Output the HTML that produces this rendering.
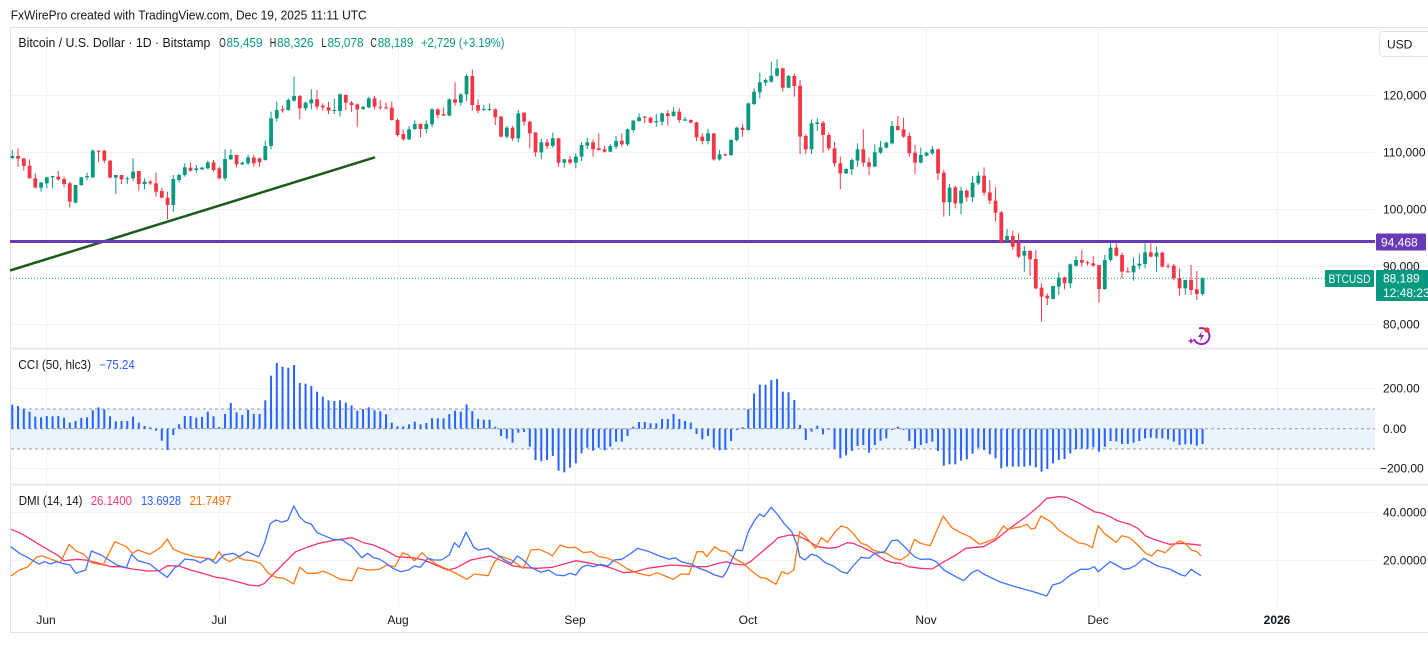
<!DOCTYPE html>
<html><head><meta charset="utf-8">
<style>
html,body{margin:0;padding:0;background:#fff;}
svg{display:block;font-family:"Liberation Sans",Arial,sans-serif;}
</style></head>
<body>
<svg id="s" xmlns="http://www.w3.org/2000/svg" width="1428" height="648" viewBox="0 0 1428 648">
<rect x="0" y="0" width="1428" height="648" fill="#fff"/>
<text x="10.7" y="19.5" font-size="12.5" fill="#131722" textLength="356" lengthAdjust="spacingAndGlyphs">FxWirePro created with TradingView.com, Dec 19, 2025 11:11 UTC</text>
<!-- frame -->
<rect x="10.5" y="27.5" width="1430" height="605" fill="none" stroke="#e0e3eb" stroke-width="1"/>
<g id="grid" stroke="#f0f2f5" stroke-width="1"></g>
<!-- CCI band -->
<rect x="11" y="409" width="1364" height="40" fill="#eaf4fe"/>
<g stroke="#9598a1" stroke-width="1" stroke-dasharray="3 3">
<line x1="11" y1="409" x2="1375" y2="409"/>
<line x1="11" y1="428.7" x2="1375" y2="428.7"/>
<line x1="11" y1="449" x2="1375" y2="449"/>
</g>
<!-- separators -->
<line x1="10" y1="348.5" x2="1428" y2="348.5" stroke="#e6e8ee" stroke-width="2"/>
<line x1="10" y1="484.5" x2="1428" y2="484.5" stroke="#e6e8ee" stroke-width="2"/>
<!-- trend line -->
<line x1="10" y1="270.5" x2="375" y2="157.3" stroke="#1e5a1e" stroke-width="2.5"/>
<!-- purple line -->
<line x1="10" y1="241.5" x2="1375" y2="241.5" stroke="#673ab7" stroke-width="3"/>
<!-- current price dotted -->
<line x1="10" y1="278.3" x2="1325" y2="278.3" stroke="#089981" stroke-width="1" stroke-dasharray="1 2"/>
<g id="candles"></g>
<g id="cci" fill="#2962ff"></g>
<g id="dmi" fill="none" stroke-width="1.3" stroke-linejoin="round"></g>
<!-- legends -->
<text x="18.4" y="47" font-size="12.5" fill="#131722" textLength="192" lengthAdjust="spacingAndGlyphs">Bitcoin / U.S. Dollar · 1D · Bitstamp</text>
<text x="219.3" y="47" font-size="12.5" fill="#131722" textLength="6.5" lengthAdjust="spacingAndGlyphs">O</text>
<text x="226.5" y="47" font-size="12.5" fill="#089981" textLength="36" lengthAdjust="spacingAndGlyphs">85,459</text>
<text x="269.8" y="47" font-size="12.5" fill="#131722" textLength="6.5" lengthAdjust="spacingAndGlyphs">H</text>
<text x="277" y="47" font-size="12.5" fill="#089981" textLength="36.5" lengthAdjust="spacingAndGlyphs">88,326</text>
<text x="321.5" y="47" font-size="12.5" fill="#131722" textLength="5" lengthAdjust="spacingAndGlyphs">L</text>
<text x="327.5" y="47" font-size="12.5" fill="#089981" textLength="36" lengthAdjust="spacingAndGlyphs">85,078</text>
<text x="370.4" y="47" font-size="12.5" fill="#131722" textLength="6.5" lengthAdjust="spacingAndGlyphs">C</text>
<text x="377.7" y="47" font-size="12.5" fill="#089981" textLength="35.6" lengthAdjust="spacingAndGlyphs">88,189</text>
<text x="421" y="47" font-size="12.5" fill="#089981" textLength="83.5" lengthAdjust="spacingAndGlyphs">+2,729 (+3.19%)</text>

<text x="18.3" y="369" font-size="12.5" fill="#131722" textLength="72.7" lengthAdjust="spacingAndGlyphs">CCI (50, hlc3)</text>
<text x="99.3" y="369" font-size="12.5" fill="#2962ff" textLength="35.5" lengthAdjust="spacingAndGlyphs">−75.24</text>

<text x="18.7" y="505" font-size="12.5" fill="#131722" textLength="63.8" lengthAdjust="spacingAndGlyphs">DMI (14, 14)</text>
<text x="90.7" y="505" font-size="12.5" fill="#f23a6e" textLength="41.3" lengthAdjust="spacingAndGlyphs">26.1400</text>
<text x="141" y="505" font-size="12.5" fill="#2962ff" textLength="40" lengthAdjust="spacingAndGlyphs">13.6928</text>
<text x="189.5" y="505" font-size="12.5" fill="#ff6d00" textLength="42" lengthAdjust="spacingAndGlyphs">21.7497</text>

<!-- price axis -->
<rect x="1379.5" y="31.5" width="56" height="25" rx="4" fill="#fff" stroke="#e0e3eb"/>
<text x="1387" y="48.5" font-size="12" fill="#131722">USD</text>
<g font-size="12" fill="#131722">
<text x="1383" y="99.3">120,000</text>
<text x="1383" y="156.3">110,000</text>
<text x="1383" y="213.3">100,000</text>
<text x="1383" y="270.3">90,000</text>
<text x="1383" y="328.3">80,000</text>
<text x="1383" y="392.3">200.00</text>
<text x="1383" y="432.8">0.00</text>
<text x="1380" y="472.3">−200.00</text>
<text x="1383" y="516.3">40.0000</text>
<text x="1383" y="564.3">20.0000</text>
</g>
<rect x="1376" y="233.5" width="50" height="17" rx="1" fill="#673ab7"/>
<text x="1381" y="246.3" font-size="12" fill="#fff">94,468</text>
<rect x="1325" y="270" width="49" height="17" rx="1" fill="#089981"/>
<text x="1328.5" y="283" font-size="12" fill="#fff" textLength="42" lengthAdjust="spacingAndGlyphs">BTCUSD</text>
<rect x="1376" y="270" width="54" height="31" rx="1" fill="#089981"/>
<text x="1383" y="282.5" font-size="12" fill="#fff">88,189</text>
<text x="1383" y="297" font-size="12" fill="#fff">12:48:23</text>

<!-- x axis -->
<g font-size="12" fill="#131722" text-anchor="middle">
<text x="46" y="624">Jun</text>
<text x="219" y="624">Jul</text>
<text x="398" y="624">Aug</text>
<text x="575" y="624">Sep</text>
<text x="748" y="624">Oct</text>
<text x="926" y="624">Nov</text>
<text x="1098" y="624">Dec</text>
<text x="1277" y="624" font-weight="bold">2026</text>
</g>
<!-- icon -->
<g transform="translate(1201,336)">
<path d="M-7,3 A8,8 0 1 0 -2,-7.5" fill="none" stroke="#9c27b0" stroke-width="2"/>
<path d="M1,-5 L-3,1 L0,1 L-1,6 L3,-1 L0,-1 Z" fill="#9c27b0"/>
<circle cx="6" cy="-6" r="2.6" fill="#f23645"/>
<path d="M-10,2 L-9,4 L-7,5 L-9,6 L-10,8 L-11,6 L-13,5 L-11,4 Z" fill="#9c27b0"/>
</g>
</svg>
<script>
(function(){
var NS="http://www.w3.org/2000/svg";
function el(tag,attrs,parent){var e=document.createElementNS(NS,tag);for(var k in attrs)e.setAttribute(k,attrs[k]);parent.appendChild(e);return e;}
var grid=document.getElementById('grid');
[46,219,398,575,748,926,1098,1277].forEach(function(x){el('line',{x1:x+0.5,y1:28,x2:x+0.5,y2:606},grid);});
[95,152,209,266,324,388,468,512,560].forEach(function(y){el('line',{x1:11,y1:y+0.5,x2:1375,y2:y+0.5},grid);});

var A="g 288 294 270 298|r 288 296 265 320|r 295 318 295 332|r 317 355 298 355|r 355 383 340 385|g 368 383 365 395|g 352 370 350 385|g 348 352 348 385|r 350 358 333 362|r 357 372 350 382|r 370 425 365 443|g 375 428 375 430|g 352 375 350 378|g 348 352 338 360|g 272 352 268 355|r 272 274 270 305|r 272 302 270 310|r 302 353 300 355|g 345 353 345 402|r 345 358 345 372|g 355 358 350 372|g 335 355 295 362|r 333 372 333 392|g 365 372 355 388|r 365 370 360 375|r 370 395 338 410|r 393 413 383 415|r 413 435 395 478|g 357 435 345 455|g 345 360 340 368|g 322 345 310 350|r 323 332 307 335|g 325 330 315 338|g 323 328 320 330|g 307 325 302 328|r 307 330 300 335|r 325 355 320 358|g 297 355 268 362|g 285 298 268 300|r 285 313 285 322|g 308 313 305 315|g 292 310 285 315|r 293 310 285 320|r 295 307 293 320|g 258 300 242 302|g 175 258 155 268|g 150 175 125 185|r 148 152 137 158|g 120 150 115 152|g 108 122 50 125|r 108 145 105 178|g 128 145 125 152|g 118 130 88 148|r 118 140 90 148|r 137 142 130 152|r 142 152 125 162|g 150 153 115 162|g 103 153 100 170|r 105 128 103 150|r 128 135 123 155|r 133 148 130 200|g 141 147 138 150|g 115 142 110 145|r 115 140 108 148|r 140 143 120 150|r 142 143 128 148|r 143 180 125 182|r 180 225 175 230|r 222 238 208 242|g 208 238 198 240";
var B="g 207 222 196 225|r 207 222 205 247|g 207 222 196 235|g 163 208 160 217|r 163 180 160 190|r 178 182 157 183|g 133 182 130 183|r 133 143 82 152|g 118 143 115 152|g 63 118 58 138|r 63 150 43 167|r 150 167 133 175|g 162 165 150 167|g 162 165 145 168|r 163 187 160 210|r 185 245 182 247|g 218 245 213 250|r 218 250 213 257|g 175 250 165 262|r 173 200 172 212|r 200 235 197 280|r 232 292 232 305|g 262 292 252 313|r 262 273 252 282|g 250 273 233 278|r 250 323 248 335|g 313 323 312 338|r 313 323 303 328|g 305 323 295 340|g 270 305 262 318|g 262 272 248 282|r 262 283 253 305|r 280 285 235 287|r 283 290 272 292|g 273 290 267 292|g 258 275 243 282|r 257 268 235 275|g 223 268 220 273|g 197 225 195 232|g 187 198 175 200|r 185 188 183 205|r 188 203 185 205|g 198 202 176 215|g 175 200 173 212|r 175 183 165 212|g 170 183 157 185|r 170 195 160 203|g 193 197 185 197|r 195 203 193 205|r 202 247 200 258|r 245 258 235 268|g 235 258 222 268|r 235 313 235 317|g 298 313 285 317|r 298 300 295 303|g 255 300 252 303|g 218 255 215 260|r 218 225 207 245|g 145 225 143 227|g 110 147 100 150|g 82 112 53 130|g 75 83 70 93|g 62 80 20 83|g 40 62 13 65|r 40 98 38 110|g 63 98 60 100|r 63 93 55 125|r 92 245 75 297|r 243 283 237 297|g 205 283 193 297|g 202 207 190 228";
var C="r 38 75 33 128|r 75 115 68 122|r 115 160 95 170|r 160 190 140 238|g 177 190 175 192|g 150 178 145 195|g 118 152 100 170|r 118 158 58 170|r 157 170 143 195|g 127 170 103 170|g 112 128 93 132|g 98 113 95 115|g 48 100 33 103|r 48 60 18 62|r 58 80 23 83|r 78 130 68 140|r 128 158 105 192|g 135 158 112 160|g 128 137 125 140|g 118 130 108 135|r 118 190 115 210|r 188 277 180 320|g 233 277 222 318|r 232 280 227 295|g 242 280 230 313|r 242 262 238 275|g 218 262 198 277|g 197 220 185 225|r 197 248 172 257|r 247 272 210 282|r 272 308 232 335|r 307 397 303 400|g 378 392 357 398|r 378 410 362 420|r 398 440 370 445|g 423 437 408 485|r 423 448 420 497|r 447 535 420 538|r 533 560 520 635|r 557 565 550 585|g 528 567 527 568|g 503 530 487 555|r 502 520 500 538|g 463 520 460 535|g 450 467 438 470|r 450 458 420 470|r 457 459 452 467|r 460 467 438 470|r 465 537 465 578|g 450 537 435 540|g 413 450 400 455|r 413 437 400 440|r 435 485 428 505|r 484 487 472 488|g 467 487 442 512|g 461 467 430 478|g 427 462 400 475|r 427 440 400 442|g 428 440 410 485|r 428 470 425 472|r 467 470 460 475|r 467 505 462 510|r 505 535 475 557|g 510 535 510 555|r 510 540 465 555|r 538 552 483 570|g 505 552 503 557";
var cg=document.getElementById('candles');
var idx=0;
function seg(str,off){
 str.split('|').forEach(function(s){
  var p=s.trim().split(/\s+/);
  var col=p[0]=='g'?'#089981':'#f23645';
  var bt=off+(+p[1])/3,bb=off+(+p[2])/3,wt=off+(+p[3])/3,wb=off+(+p[4])/3;
  var x=12.3+idx*5.75;
  el('line',{x1:x,y1:wt,x2:x,y2:wb,stroke:col,'stroke-width':1},cg);
  var h=Math.max(1,bb-bt);
  el('rect',{x:x-1.9,y:bt,width:3.8,height:h,fill:col},cg);
  idx++;
 });
}
seg(A,60);seg(B,55);seg(C,110);

var cci1=[194,198,206,215,230,232,228,229,228,233,248,243,234,232,211,202,208,229,244,243,243,230,248,258,262,272,302,330,285,253,228,228,233,231,215,229,261,222,189,217,225,210,222,222,181,107,69,80,83,75,129,131,138,155,170,181,183,181,188,196,212,207,202,211,214,223,248,259,259,253];
var cci2=[155,163,159,145,145,145,132,122,125,103,123,147,149,149,170,198,206,218,188,186,230,270,274,270,258,302,307,293,280,250,233,242,233,241,230,215,215,198,170,156,156,160,160,147,147,132,147,153,158,192,208,198,233,241,240,213,180,172,118,70,44,44,30,27,65,67,90,165,210,185,167,193,178,236,265,256,243,228,225,248,225,212,205,180,170,180,213,236,225,220,215,243,287,283,283,272,268,251,233,240,253,265,295,290,290,290,290,287,292,305,297,280,270,267,250,238,236,236,232,245,230,213,214,222,222,218,213,205,203,205,205,208,215,225,223,223,227,222];
var cc=document.getElementById('cci');
var z=428.7;
function bar(i,y){var x=12.3+i*5.75;var t=Math.min(y,z),h=Math.max(1,Math.abs(y-z));el('rect',{x:x-1,y:t,width:2,height:h},cc);}
cci1.forEach(function(v,i){bar(i,340+v/3);});
cci2.forEach(function(v,i){bar(70+i,370+v/3);});

var r11=[[28,118],[50,128],[75,145],[100,163],[125,180],[150,197],[165,212],[200,208],[220,210],[250,218],[285,230],[310,230],[340,237],[380,243],[410,242],[430,227],[460,228],[490,240],[520,250],[555,262],[580,266],[610,275],[640,285],[665,288],[680,280],[700,255],[730,220],[760,185],[790,172],[820,160],[850,153],[875,148],[905,143],[935,158],[960,165],[990,180],[1020,200],[1060,203],[1090,210],[1120,225],[1150,240],[1170,235],[1210,210],[1260,198],[1290,212],[1320,228],[1350,233],[1380,235],[1420,232],[1450,222],[1480,212],[1510,218],[1540,225]];
var b11=[[28,170],[50,190],[75,205],[100,222],[115,215],[130,222],[145,215],[160,220],[180,225],[195,250],[220,240],[235,183],[260,195],[300,225],[325,233],[338,193],[355,212],[385,222],[410,245],[430,262],[450,232],[460,227],[475,207],[500,210],[515,218],[535,205],[555,220],[575,195],[600,190],[615,200],[635,185],[648,192],[665,200],[680,160],[695,100],[710,90],[725,97],[740,90],[755,48],[770,80],[785,97],[800,102],[815,128],[840,140],[855,148],[880,150],[905,170],[930,203],[945,190],[960,203],[975,207],[995,222],[1010,235],[1030,245],[1050,240],[1065,228],[1080,232],[1100,205],[1115,210],[1135,210],[1155,195],[1168,158],[1180,172],[1198,127],[1218,172],[1230,180],[1255,175],[1275,192],[1300,212],[1315,220],[1330,198],[1345,210],[1365,232],[1390,247],[1410,240],[1430,255],[1450,257],[1465,250],[1480,255],[1495,232],[1510,225],[1525,230],[1540,225]];
var o11=[[28,258],[50,240],[70,232],[95,200],[110,198],[130,207],[155,218],[178,163],[195,183],[215,192],[235,218],[265,225],[295,155],[325,170],[340,190],[355,180],[385,193],[405,178],[415,170],[430,147],[445,177],[470,190],[500,200],[530,205],[550,210],[563,185],[575,205],[590,215],[610,202],[630,210],[650,212],[670,220],[690,250],[710,262],[730,265],[755,282],[770,232],[790,250],[815,250],[830,243],[850,253],[875,268],[905,272],[920,233],[945,240],[975,238],[995,225],[1015,230],[1035,188],[1050,195],[1065,212],[1085,188],[1100,205],[1125,225],[1155,240],[1180,255],[1200,268],[1220,252],[1255,257],[1270,218],[1285,198],[1315,210],[1345,235],[1365,180],[1385,178],[1410,190],[1420,198],[1440,165],[1460,173],[1480,172],[1500,188],[1520,185],[1540,200]];
var r12=[[0,225],[30,235],[60,248],[90,245],[120,235],[150,230],[180,225],[210,227],[240,230],[270,230],[300,220],[320,215],[340,222],[365,225],[380,215],[410,185],[440,155],[450,143],[480,135],[500,137],[520,148],[550,170],[580,175],[600,172],[625,158],[640,160],[660,170],[690,187],[720,210],[740,218],[760,220],[780,230],[810,235],[840,237],[870,215],[900,195],[925,175],[950,172],[970,170],[1000,150],[1040,112],[1080,78],[1110,48],[1130,25],[1160,20],[1180,22],[1210,38],[1250,65],[1270,70],[1290,80],[1310,93],[1340,103],[1360,115],[1380,138],[1400,148],[1440,163],[1470,160],[1500,163],[1520,166]];
var b12=[[0,223],[20,228],[35,210],[55,208],[75,193],[95,175],[125,185],[150,198],[175,208],[190,203],[205,215],[230,222],[250,235],[270,243],[290,255],[310,262],[320,245],[345,180],[360,182],[375,125],[390,93],[403,72],[415,80],[433,52],[450,75],[465,100],[485,125],[500,170],[505,200],[518,210],[535,193],[550,198],[570,218],[590,228],[610,245],[625,250],[640,228],[660,202],[680,205],[695,190],[720,185],[738,152],[752,150],[770,170],[795,200],[810,208],[835,207],[850,215],[870,240],[900,260],[920,272],[940,248],[955,240],[970,252],[1010,275],[1050,290],[1090,303],[1130,318],[1145,285],[1165,278],[1190,255],[1215,238],[1235,238],[1250,230],[1260,245],[1290,215],[1310,228],[1325,238],[1340,235],[1355,226],[1375,205],[1390,215],[1410,228],[1440,237],[1470,255],[1480,258],[1495,238],[1510,250],[1520,257]];
var o12=[[0,200],[20,205],[45,218],[70,237],[95,250],[125,257],[145,248],[165,258],[185,268],[205,252],[225,253],[245,185],[260,185],[270,200],[290,170],[305,182],[320,185],[340,205],[365,222],[380,240],[405,262],[420,265],[445,283],[460,245],[475,252],[490,240],[505,125],[520,140],[545,175],[560,143],[575,157],[595,125],[610,108],[625,113],[640,130],[660,160],[675,165],[690,180],[710,187],[725,190],[745,205],[760,210],[780,195],[795,148],[810,160],[835,167],[868,78],[890,113],[910,127],[935,140],[960,163],[980,155],[1000,145],[1020,108],[1030,118],[1065,110],[1080,103],[1090,117],[1100,115],[1115,78],[1140,95],[1160,120],[1185,140],[1210,158],[1230,163],[1245,173],[1260,107],[1275,130],[1305,157],[1320,137],[1340,143],[1360,165],[1380,190],[1395,198],[1410,180],[1430,188],[1445,170],[1465,152],[1480,160],[1495,180],[1510,185],[1520,198]];
var dg=document.getElementById('dmi');
function line(a,b,col){
 var pts=[];
 a.forEach(function(p){var x=p[0]/2.5705;if(x<600)pts.push(x.toFixed(1)+','+(490+p[1]/3).toFixed(1));});
 b.forEach(function(p){pts.push((600+p[0]/2.529).toFixed(1)+','+(490+p[1]/3).toFixed(1));});
 el('polyline',{points:pts.join(' '),stroke:col},dg);
}
line(r11,r12,'#f5336f');
line(o11,o12,'#ff7a18');
line(b11,b12,'#3f72ff');
})();
</script>
</body></html>
